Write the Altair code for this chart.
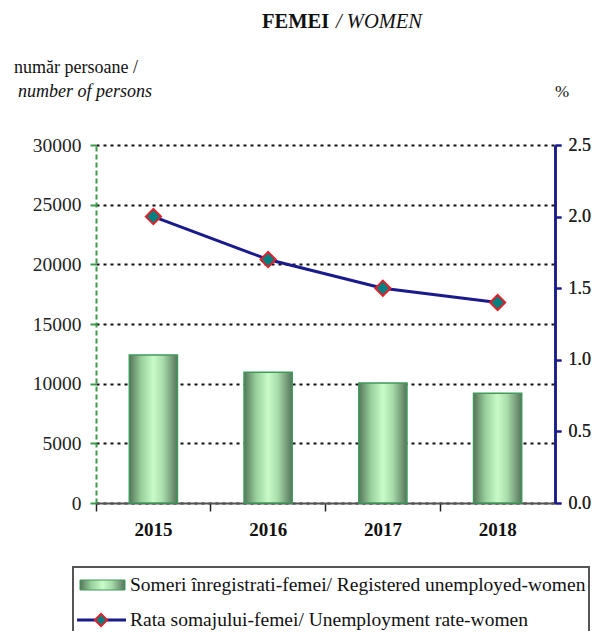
import altair as alt
import pandas as pd

years = ["2015", "2016", "2017", "2018"]
registered = [12400, 10950, 10050, 9200]
rate = [2.0, 1.7, 1.5, 1.4]

left_ticks = [0, 5000, 10000, 15000, 20000, 25000, 30000]
right_ticks = [0.0, 0.5, 1.0, 1.5, 2.0, 2.5]

title_bold = "FEMEI"
title_italic = "/ WOMEN"
ytitle_1 = "număr persoane /"
ytitle_2 = "number of persons"
y2title = "%"
legend_bar = "Someri înregistrati-femei/ Registered unemployed-women"
legend_line = "Rata somajului-femei/ Unemployment rate-women"

FONT = "Liberation Serif"
W, H = 459, 358

df = pd.DataFrame({"year": years, "registered": registered, "rate": rate})

grad = alt.Gradient(
    gradient="linear",
    x1=0, y1=0, x2=1, y2=0,
    stops=[
        alt.GradientStop(color="#56745a", offset=0),
        alt.GradientStop(color="#98d09c", offset=0.25),
        alt.GradientStop(color="#c8fbc8", offset=0.5),
        alt.GradientStop(color="#a8dcaa", offset=0.7),
        alt.GradientStop(color="#56745a", offset=1),
    ],
)

xenc = alt.X(
    "year:N",
    sort=years,
    scale=alt.Scale(paddingInner=0, paddingOuter=0),
    axis=alt.Axis(
        title=None, labelAngle=0, labelFont=FONT, labelFontSize=19,
        labelFontWeight="bold", labelColor="#111", labelPadding=9,
        domainColor="#555", domainWidth=2, tickColor="#222", tickWidth=1.5,
        tickSize=8, bandPosition=0, grid=False,
    ),
)

bars = alt.Chart(df).mark_bar(
    fill=grad, stroke="#3f9a5c", strokeWidth=1.5,
    width=alt.RelativeBandSize(0.42),
).encode(
    x=xenc,
    y=alt.Y(
        "registered:Q",
        scale=alt.Scale(domain=[0, 30000], nice=False),
        axis=alt.Axis(
            orient="left", title=None, values=left_ticks, format="d",
            labelFont=FONT, labelFontSize=19.5, labelColor="#222", labelPadding=9,
            domainColor="#3a9a4a", domainWidth=2, domainDash=[5, 3],
            tickColor="#3a9a4a", tickWidth=2, tickSize=6,
            grid=True, gridColor="#111", gridDash=[3, 4], gridWidth=1.8,
        ),
    ),
)

yr = alt.Y(
    "rate:Q",
    scale=alt.Scale(domain=[0, 2.5], nice=False),
    axis=alt.Axis(
        orient="right", title=None, values=right_ticks, format=".1f",
        labelFont=FONT, labelFontSize=18, labelColor="#222", labelPadding=7,
        domainColor="#1a1a8c", domainWidth=2.5,
        tickColor="#1a1a8c", tickWidth=2, tickSize=6, grid=False,
    ),
)

line = alt.Chart(df).mark_line(color="#1a1a8c", strokeWidth=3).encode(x=xenc, y=yr)
pts = alt.Chart(df).mark_point(
    shape="diamond", filled=True, fill="#008080", stroke="#e0202a",
    strokeWidth=2, size=230, opacity=1,
).encode(x=xenc, y=yr)

one = pd.DataFrame({"k": [0]})


def txt(s, x, y, size, weight="normal", style="normal", align="left"):
    return alt.Chart(one).mark_text(
        text=s, font=FONT, fontSize=size, fontWeight=weight, fontStyle=style,
        align=align, baseline="middle", color="#111",
    ).encode(x=alt.value(x), y=alt.value(y))


titles = [
    txt(title_bold, 166, -123, 20.5, weight="bold"),
    txt(title_italic, 240, -123, 20.5, style="italic"),
    txt(ytitle_1, -82, -77, 18),
    txt(ytitle_2, -78, -53, 18, style="italic"),
    txt(y2title, 459, -53, 17),
]

legend_box = alt.Chart(one).mark_rect(
    fill="white", stroke="#555", strokeWidth=2
).encode(x=alt.value(-23), x2=alt.value(493), y=alt.value(422), y2=alt.value(520))
legend_sw = alt.Chart(one).mark_rect(fill=grad, stroke="#3f9a5c", strokeWidth=1).encode(
    x=alt.value(-16), x2=alt.value(29), y=alt.value(435), y2=alt.value(445)
)
legend_rule = alt.Chart(one).mark_rule(color="#1a1a8c", strokeWidth=3).encode(
    x=alt.value(-19), x2=alt.value(30), y=alt.value(475)
)
legend_pt = alt.Chart(one).mark_point(
    shape="diamond", filled=True, fill="#008080", stroke="#e0202a",
    strokeWidth=2, size=150, opacity=1,
).encode(x=alt.value(5), y=alt.value(475))

legend = [
    legend_box, legend_sw, legend_rule, legend_pt,
    txt(legend_bar, 34, 440, 19.5),
    txt(legend_line, 34, 475, 19.5),
]

chart = alt.layer(bars, line, pts, *titles, *legend).resolve_scale(
    y="independent"
).properties(
    width=W, height=H,
    autosize=alt.AutoSizeParams(type="none"),
    padding={"left": 88, "top": 137, "right": 36, "bottom": 128},
).configure_view(stroke=None)

chart.save("out.html", embed_options={"renderer": "svg", "actions": False})
